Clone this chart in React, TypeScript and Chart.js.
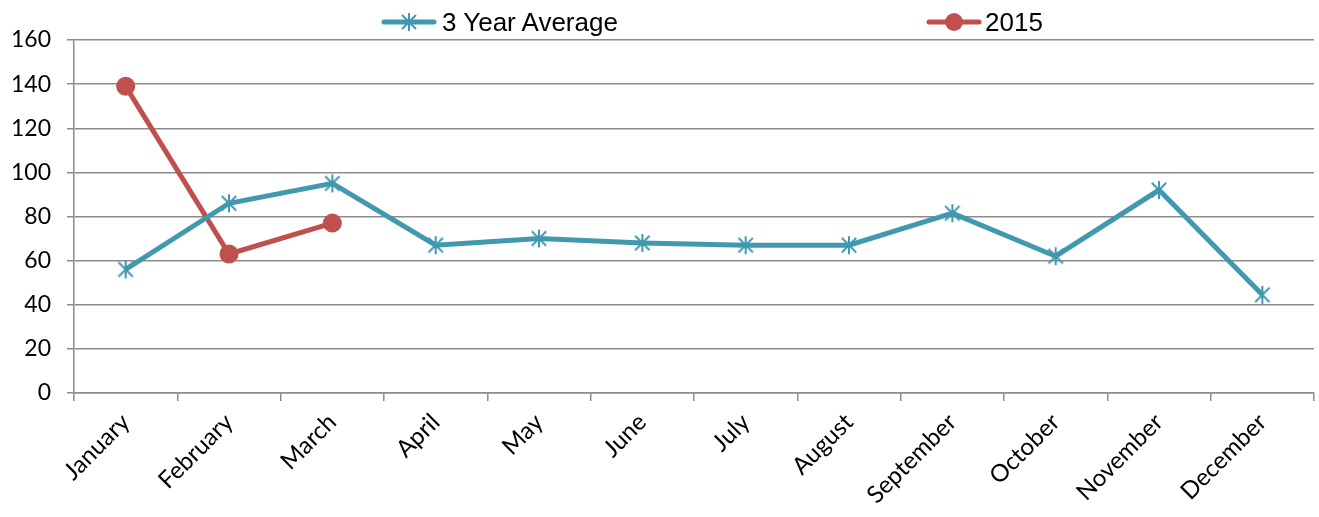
import React, { useEffect, useRef } from "react";
import { Chart, registerables } from "chart.js";

Chart.register(...registerables);

const months = ["January", "February", "March", "April", "May", "June", "July", "August", "September", "October", "November", "December"];
const threeYearAverage = [56, 86, 95, 67, 70, 68, 67, 67, 81.5, 62, 92, 44.5];
const year2015 = [139, 63, 77, null, null, null, null, null, null, null, null, null];
const yTicks = [0, 20, 40, 60, 80, 100, 120, 140, 160];

const TEAL = "#4198AF";
const RED = "#C0504D";
const GRID = "#8C8C8C";

function makeStar(size: number, color: string) {
  const c = document.createElement("canvas");
  c.width = size;
  c.height = size;
  const ctx = c.getContext("2d")!;
  ctx.strokeStyle = color;
  ctx.lineWidth = 2;
  const m = size / 2;
  const r = size / 2 - 1;
  ctx.beginPath();
  ctx.moveTo(m, m - r);
  ctx.lineTo(m, m + r);
  const d = r * 0.8;
  ctx.moveTo(m - d, m - d);
  ctx.lineTo(m + d, m + d);
  ctx.moveTo(m + d, m - d);
  ctx.lineTo(m - d, m + d);
  ctx.stroke();
  return c;
}

function StarIcon() {
  return (
    <svg width="56" height="20" style={{ display: "block" }}>
      <line x1="3" y1="10" x2="53" y2="10" stroke={TEAL} strokeWidth="5" strokeLinecap="round" />
      <line x1="28" y1="1" x2="28" y2="19" stroke={TEAL} strokeWidth="2" />
      <line x1="21" y1="3" x2="35" y2="17" stroke={TEAL} strokeWidth="2" />
      <line x1="35" y1="3" x2="21" y2="17" stroke={TEAL} strokeWidth="2" />
    </svg>
  );
}

function DotIcon() {
  return (
    <svg width="56" height="20" style={{ display: "block" }}>
      <line x1="3" y1="10" x2="53" y2="10" stroke={RED} strokeWidth="5" strokeLinecap="round" />
      <circle cx="28" cy="10" r="9" fill={RED} />
    </svg>
  );
}

export default function App() {
  const ref = useRef<HTMLCanvasElement>(null);
  useEffect(() => {
    const star = makeStar(20, TEAL);
    const chart = new Chart(ref.current!, {
      type: "line",
      data: {
        labels: months,
        datasets: [
          {
            label: "3 Year Average",
            data: threeYearAverage,
            borderColor: TEAL,
            backgroundColor: TEAL,
            borderWidth: 5,
            pointStyle: star as any,
            pointRadius: 10,
            tension: 0,
          },
          {
            label: "2015",
            data: year2015 as any,
            borderColor: RED,
            backgroundColor: RED,
            borderWidth: 5,
            pointStyle: "circle",
            pointRadius: 9.5,
            pointBorderWidth: 0,
            tension: 0,
            spanGaps: false,
          },
        ],
      },
      options: {
        animation: false,
        responsive: false,
        maintainAspectRatio: false,
        layout: { autoPadding: false, padding: { top: 40, right: 5, left: 0, bottom: 0 } },
        plugins: { legend: { display: false }, tooltip: { enabled: false } },
        scales: {
          x: {
            type: "category",
            offset: true,
            grid: {
              offset: true,
              drawOnChartArea: false,
              drawTicks: true,
              tickLength: 8,
              color: GRID,
              lineWidth: 1.5,
            },
            border: { color: GRID, width: 1.5 },
            ticks: {
              minRotation: 45,
              maxRotation: 45,
              autoSkip: false,
              padding: 7,
              color: "#000",
              font: { family: "Lato", size: 24 },
            },
            afterFit: (s: any) => {
              s.height = 124;
              s.paddingLeft = 0;
              s.paddingRight = 0;
            },
          },
          y: {
            min: 0,
            max: 160,
            afterBuildTicks: (s: any) => {
              s.ticks = yTicks.map((v) => ({ value: v }));
            },
            grid: { color: GRID, lineWidth: 1.5, tickLength: 7 },
            border: { color: GRID, width: 1.5 },
            ticks: {
              padding: 16,
              color: "#000",
              font: { family: "Lato", size: 23 },
            },
            afterFit: (s: any) => {
              s.width = 74;
              s.paddingTop = 0;
              s.paddingBottom = 0;
            },
          },
        },
      },
    });
    return () => chart.destroy();
  }, []);

  const legendText: React.CSSProperties = {
    fontFamily: "'Liberation Sans', Arial, sans-serif",
    fontSize: 26,
    color: "#000",
    lineHeight: "30px",
    whiteSpace: "nowrap",
  };

  return (
    <div style={{ position: "fixed", left: 0, top: 0, width: 1319, height: 517, background: "#fff" }}>
      <canvas ref={ref} width={1319} height={517} style={{ display: "block" }} />
      <div style={{ position: "absolute", left: 381, top: 7, height: 30, display: "flex", alignItems: "center", gap: 5 }}>
        <StarIcon />
        <span style={legendText}>3 Year Average</span>
      </div>
      <div style={{ position: "absolute", left: 926, top: 7, height: 30, display: "flex", alignItems: "center", gap: 3 }}>
        <DotIcon />
        <span style={legendText}>2015</span>
      </div>
    </div>
  );
}
